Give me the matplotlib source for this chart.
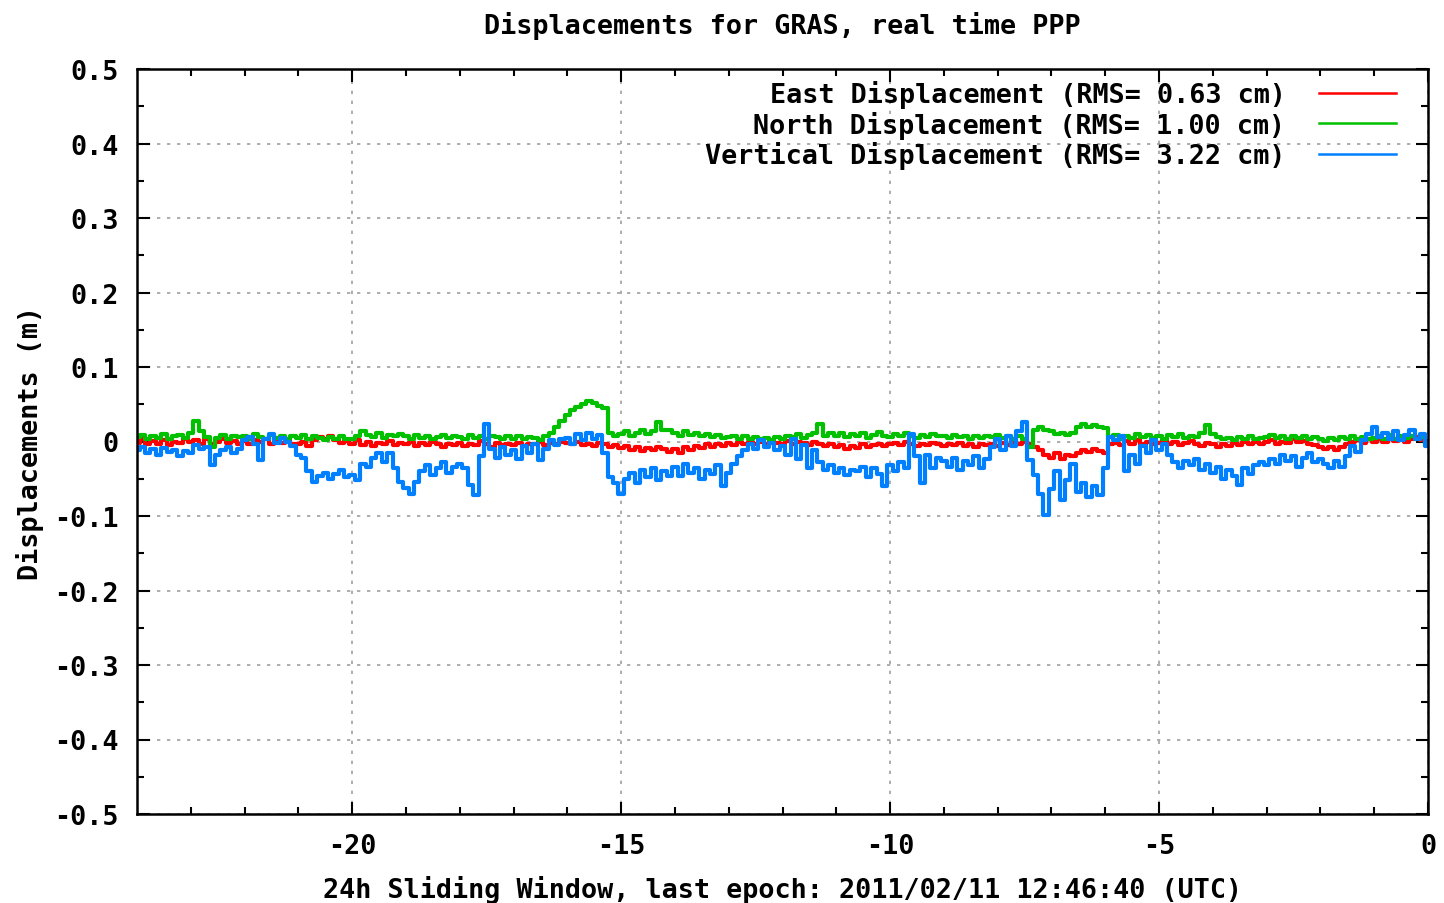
import numpy as np
import matplotlib
matplotlib.use("Agg")
import matplotlib.pyplot as plt

# displacements in cm, one sample every 0.1 h from -24 h to 0 h
east = [
    -0.2, 0.3, -0.4, 0.1, -0.3, 0.2, -0.5, 0.0, -0.2, 0.3,
    -0.1, 0.2, -0.4, 0.4, -0.3, 0.0, 0.3, -0.2, 0.1, -0.4,
    0.1, -0.3, 0.2, -0.1, 0.3, -0.4, 0.0, -0.2, 0.2, -0.3,
    -0.4, -0.1, -0.6, 0.2, 0.6, 0.3, 0.7, 0.2, -0.2, 0.1,
    -0.3, 0.2, -0.5, -0.1, -0.6, -0.2, -0.4, 0.1, -0.5, -0.2,
    -0.4, -0.1, -0.6, -0.2, -0.5, 0.0, -0.4, -0.7, -0.3, -0.5,
    -0.2, -0.6, -0.3, -0.5, 0.1, -0.4, -0.7, -0.2, -0.5, -0.3,
    -0.5, -0.2, -0.6, -0.3, -0.4, -0.1, -0.5, -0.2, -0.3, 0.0,
    -0.2, -0.4, -0.1, -0.5, -0.3, -0.6, -0.2, -0.4, -0.7, -0.5,
    -0.9, -0.6, -1.1, -0.8, -1.3, -0.9, -1.2, -0.7, -1.0, -1.4,
    -1.0, -1.5, -0.8, -1.2, -0.6, -0.9, -0.4, -0.7, -0.3, -0.6,
    -0.2, -0.5, -0.1, -0.4, 0.0, -0.3, -0.1, -0.4, 0.1, -0.2,
    -0.3, 0.1, -0.4, 0.0, -0.2, -0.5, -0.1, -0.3, -0.6, -0.4,
    -0.8, -0.5, -1.0, -0.6, -0.9, -0.4, -0.7, -0.5, -0.3, -0.6,
    -0.4, -0.2, -0.5, -0.1, -0.4, -0.6, -0.3, -0.5, -0.2, -0.4,
    -0.6, -0.3, -0.5, -0.2, -0.6, -0.4, -0.7, -0.3, -0.5, -0.4,
    -0.6, -0.2, -0.5, 0.0, -0.4, -0.1, -0.3, -0.8, -1.2, -1.8,
    -2.2, -1.6, -2.4, -1.8, -2.0, -1.5, -1.2, -1.4, -1.0, -1.3,
    -1.6, -0.4, -0.2, -0.5, 0.1, -0.3, 0.2, -0.4, 0.0, -0.3,
    -0.2, 0.2, -0.4, 0.0, -0.5, -0.2, 0.1, -0.3, -0.6, -0.2,
    -0.4, -0.7, -0.3, -0.6, -0.2, -0.5, -0.1, -0.4, 0.0, -0.3,
    -0.1, 0.2, -0.3, 0.0, -0.2, 0.3, -0.1, 0.1, -0.3, -0.5,
    -0.8, -1.0, -0.7, -1.1, -0.8, -0.3, 0.0, 0.2, -0.2, 0.3,
    0.0, 0.4, -0.1, 0.3, 0.1, 0.5, 0.0, 0.3, 0.6, 0.2,
    0.1,
]
north = [
    0.6, 0.9, 0.3, 0.8, 0.5, 1.0, 0.4, 0.7, 0.9, 0.5,
    1.2, 2.8, 1.4, 0.6, -0.8, 0.5, 0.9, 0.4, 0.8, 0.6,
    0.8, 0.4, 1.0, 0.6, 0.3, 0.9, 0.5, 0.7, 0.4, 0.8,
    0.5, 0.9, 0.3, 0.7, 0.5, 0.2, 0.6, 0.4, 0.8, 0.3,
    0.4, 0.8, 1.4, 0.9, 0.6, 1.2, 0.5, 0.9, 0.7, 1.0,
    0.7, 0.3, 0.9, 0.5, 0.8, 0.4, 0.6, 0.9, 0.5, 0.7,
    0.6, 0.4, 0.9, 0.5, 0.7, 0.3, 0.8, 0.6, 0.4, 0.7,
    0.4, 0.8, 0.3, 0.6, 0.5, 0.2, 0.7, 1.2, 2.0, 2.8,
    3.6, 4.2, 4.6, 5.0, 5.4, 5.2, 4.8, 4.5, 1.2, 0.8,
    1.0, 1.4, 0.8, 1.2, 1.6, 1.0, 1.4, 2.6, 1.6, 1.5,
    1.1, 0.8, 1.4, 0.9, 1.2, 0.7, 1.0, 0.6, 0.9, 0.5,
    0.6, 0.8, 0.4, 0.7, 0.3, 0.6, 0.4, 0.5, 0.2, 0.6,
    0.4, 0.8, 0.6, 1.0, 0.5, 0.9, 1.2, 2.4, 0.7, 1.1,
    0.8, 1.2, 0.6, 1.0, 0.7, 1.1, 0.5, 0.9, 1.3, 0.8,
    0.6, 1.0, 0.7, 1.2, 0.8, 0.5, 0.9, 0.6, 1.0, 0.7,
    0.8, 0.5, 0.9, 0.6, 0.8, 0.4, 0.7, 0.5, 0.8, 0.6,
    0.9, 0.5, 0.8, 0.4, 0.7, 0.3, -0.8, 1.6, 2.0, 1.5,
    1.4, 1.0, 1.2, 0.9, 1.1, 2.0, 2.4, 1.9, 2.2, 2.0,
    1.8, 0.6, 0.9, 0.4, 0.8, 0.5, 1.0, 0.6, 0.9, 0.5,
    0.8, 0.4, 0.9, 0.6, 1.0, 0.5, 0.8, 0.6, 1.2, 2.2,
    1.0, 0.6, 0.3, 0.5, 0.2, 0.6, 0.4, 0.7, 0.3, 0.5,
    0.6, 0.9, 0.5, 0.8, 0.4, 0.7, 0.5, 0.8, 0.3, 0.6,
    0.4, 0.1, 0.5, 0.2, 0.6, 0.3, 0.7, 0.4, 0.6, 0.3,
    0.5, 0.8, 0.4, 0.9, 0.3, 0.7, 0.5, 0.8, 0.4, 0.6,
    -0.3,
]
vertical = [
    -1.2, -0.8, -1.5, -1.0, -1.8, -0.9, -1.4, -1.1, -2.0, -1.3,
    -1.6, -0.5, -1.0, -0.7, -3.1, -1.8, -1.2, -0.8, -1.5, -1.0,
    0.2, 0.6, -0.4, -2.5, 0.3, 1.0, -0.2, 0.5, 0.0, -0.6,
    -1.8, -2.2, -4.0, -5.5, -4.6, -4.2, -5.0, -4.4, -3.8, -4.8,
    -4.5, -5.2, -3.0, -3.4, -2.2, -1.5, -2.8, -1.6, -3.5, -5.5,
    -6.2, -7.0, -5.4, -4.0, -3.2, -4.5, -3.6, -2.8, -4.2, -3.4,
    -3.0, -3.6, -5.8, -7.2, -2.0, 2.4, -1.0, -2.2, -0.8, -1.8,
    -1.2, -2.4, -0.6, -1.5, -0.4, -2.5, -1.0, 0.2, -0.5, 0.4,
    0.5, -0.3, 1.0, 0.2, 1.2, 0.4, 0.9, -1.5, -4.8, -5.6,
    -7.0, -5.0, -4.2, -5.6, -3.8, -4.8, -3.6, -5.2, -4.0, -4.6,
    -3.4, -4.6, -3.0, -4.2, -3.6, -5.0, -3.8, -4.4, -3.2, -6.0,
    -4.2, -3.0, -2.0, -1.2, -0.4, -1.0, 0.2, -0.8, -0.2, -1.2,
    -0.6, -1.8, 0.3, -2.4, -0.5, -3.5, -1.2, -2.8, -3.8, -3.2,
    -4.2, -3.6, -4.5, -3.8, -4.0, -3.4, -4.8, -3.6, -4.4, -6.0,
    -3.2, -4.0, -2.8, -3.6, 1.0, -2.0, -5.6, -1.8, -3.6, -2.2,
    -2.6, -3.4, -2.2, -3.8, -2.6, -3.2, -2.0, -3.6, -2.4, -0.8,
    0.4, -1.2, 0.8, -0.6, 1.4, 2.6, -2.5, -4.5, -7.0, -9.8,
    -6.4, -4.0, -7.8, -5.2, -3.0, -6.8, -5.6, -7.4, -6.0, -7.2,
    -3.5, 0.6, 0.2, 0.8, -4.0, -1.8, -3.0, -0.6, -1.6, 0.2,
    -1.2, -0.4, -1.8, -2.8, -3.6, -2.6, -3.2, -2.4, -3.8, -3.0,
    -4.2, -3.4, -5.0, -3.8, -4.6, -5.8, -3.6, -4.4, -3.2, -2.8,
    -3.2, -2.4, -3.0, -1.8, -2.6, -2.0, -3.4, -2.2, -1.6, -2.8,
    -2.4, -3.0, -3.6, -2.6, -3.4, -2.0, -0.6, -1.4, 0.2, 1.0,
    2.0, 0.6, 1.2, 0.4, 1.4, 0.2, 0.9, 1.5, 0.3, 1.0,
    -0.6,
]
labels = [
    "East Displacement (RMS= 0.63 cm)",
    "North Displacement (RMS= 1.00 cm)",
    "Vertical Displacement (RMS= 3.22 cm)",
]
colors = ["#ff0000", "#00c000", "#0080ff"]
xticks = [-20, -15, -10, -5, 0]
yticks = [-0.5, -0.4, -0.3, -0.2, -0.1, 0, 0.1, 0.2, 0.3, 0.4, 0.5]
ytick_labels = ["-0.5", "-0.4", "-0.3", "-0.2", "-0.1", "0",
                "0.1", "0.2", "0.3", "0.4", "0.5"]

plt.rcParams["font.family"] = "DejaVu Sans Mono"
plt.rcParams["font.weight"] = "bold"
fs = 19.3

hours = np.linspace(-24, 0, len(vertical))

fig = plt.figure(figsize=(14.44, 9.04), dpi=100)
ax = fig.add_axes([137 / 1444, 1 - 815 / 904, 1291 / 1444, 745 / 904])

for series, lab, col in zip([east, north, vertical], labels, colors):
    ax.plot(hours, np.array(series) / 100.0, color=col, lw=3.0,
            drawstyle="steps-mid", label=lab)

ax.set_xlim(-24, 0)
ax.set_ylim(-0.5, 0.5)
ax.set_xticks(xticks)
ax.set_xticklabels([str(v) for v in xticks], fontsize=fs, fontweight="bold")
ax.set_yticks(yticks)
ax.set_yticklabels(ytick_labels, fontsize=fs, fontweight="bold")
ax.set_xticks(np.arange(-23, 0, 1), minor=True)
ax.set_yticks(np.arange(-0.45, 0.5, 0.1), minor=True)
ax.tick_params(which="both", direction="in", top=True, right=True, width=1.5)
ax.tick_params(axis="x", which="major", length=9, pad=14)
ax.tick_params(axis="y", which="major", length=9, pad=13)
ax.tick_params(which="minor", length=5)
ax.grid(True, which="major", color="#a0a0a0", lw=1.2, linestyle=(0, (2, 4)))
for sp in ax.spines.values():
    sp.set_linewidth(1.8)

ax.set_title("Displacements for GRAS, real time PPP", fontsize=fs,
             fontweight="bold", pad=26)
ax.set_xlabel("24h Sliding Window, last epoch: 2011/02/11 12:46:40 (UTC)",
              fontsize=fs, fontweight="bold", labelpad=11)
ax.set_ylabel("Displacements (m)", fontsize=fs, fontweight="bold", labelpad=7.5)

ax.legend(loc="upper right", frameon=False, markerfirst=False,
          handlelength=2.85, handletextpad=1.25, labelspacing=0.1,
          borderaxespad=0.0, borderpad=0.6, bbox_to_anchor=(0.9873, 1.0067),
          prop={"weight": "bold", "size": fs})
for line in ax.get_legend().get_lines():
    line.set_linewidth(1.8)

fig.savefig("out.png", dpi=100)
